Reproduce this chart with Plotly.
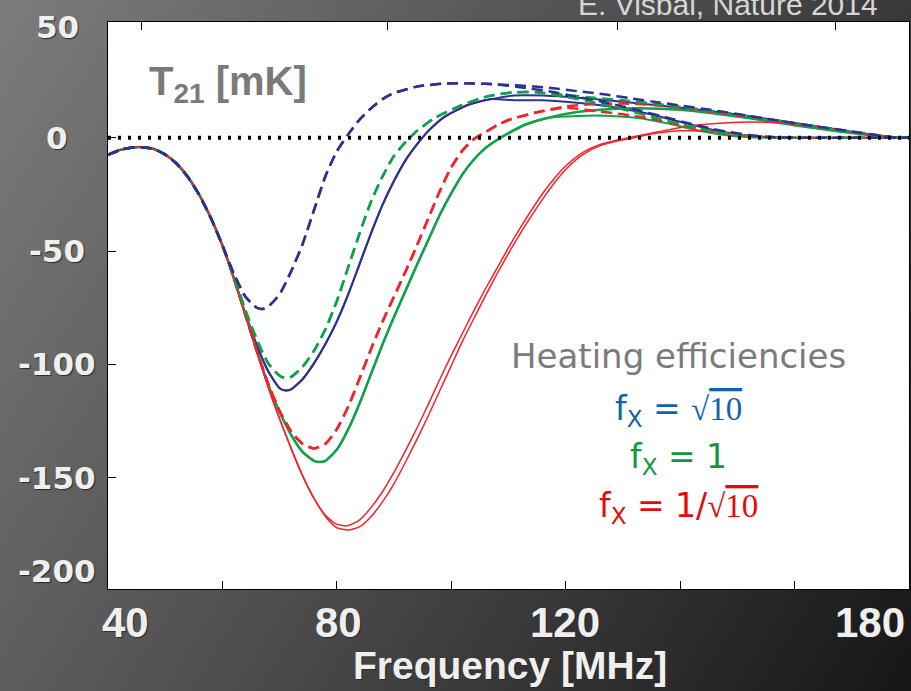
import base64
import plotly.graph_objects as go

# ---------------- data: 21-cm global signal T21 [mK] vs frequency [MHz] ----------------
# shared early part (all models coincide)
trunk_f = [40, 42, 44, 46, 48, 50, 52, 54, 56, 58, 60]
trunk_T = [-7.6, -5.5, -4.4, -4.2, -5.0, -7.5, -11.5, -17.5, -25.5, -35.5, -47.5]

# f_X = sqrt(10), soft spectrum (dashed)
bd_f = [62, 64, 66, 67, 68, 70, 72, 74, 76, 78, 80, 82, 84, 86, 88, 90, 94, 99, 104, 108]
bd_T = [-60, -70, -75, -75.5, -74.5, -69, -59, -47, -32, -17, -6, 1.5, 8, 13, 17, 19.7, 22.5, 23.9, 23.9, 23.5]
bd_long_f = [112, 117, 122, 127, 131, 135, 140, 145, 150, 156, 162, 168, 174, 178, 180]
bd_long_T = [23, 22, 20.5, 19, 17.5, 16, 14.2, 12.4, 10.4, 8, 5.6, 3.5, 1.3, 0, 0]
bd_short_f = [112, 117, 122, 127, 132, 137, 142, 147, 152, 156, 160, 180]
bd_short_T = [22.2, 20.5, 18, 15.5, 12.5, 9.3, 6, 3.2, 1.2, 0.3, 0, 0]

# f_X = sqrt(10), hard spectrum (solid)
bs_f = [62, 64, 66, 68, 70, 71, 72, 74, 76, 78, 80, 82, 84, 86, 88, 90, 92, 94, 96, 99, 103, 107]
bs_T = [-62, -77.5, -91.5, -103, -110.5, -111.5, -111, -106.5, -99.5, -91, -81, -69, -55.5, -42, -29.5,
        -19, -10, -3, 3, 9.5, 14.5, 17]
bs_long_f = [111, 116, 120, 125, 130, 135, 140, 145, 150, 155, 160, 165, 170, 175, 178, 180]
bs_long_T = [18.6, 18.6, 18, 17, 15.8, 14.5, 13.2, 11.8, 10.2, 8.4, 6.5, 4.6, 2.6, 0.8, 0, 0]
bs_short_f = [111, 116, 120, 125, 130, 135, 140, 145, 150, 154, 158, 180]
bs_short_T = [16.5, 16.5, 15.8, 14.6, 12.8, 10.2, 7, 3.8, 1.5, 0.4, 0, 0]

# f_X = 1, soft spectrum (dashed)
gd_f = [62, 64, 66, 68, 70, 71, 72, 74, 76, 78, 80, 82, 84, 86, 88, 90, 92, 94, 97, 101.5, 106, 111, 115]
gd_T = [-61, -76, -89, -99.5, -105, -106, -105.5, -101, -94, -84.5, -72, -57, -42, -28, -17, -8, -2, 3,
        8.5, 14, 18, 20, 20]
gd_long_f = [120, 125, 130, 135, 140, 145, 150, 156, 162, 168, 174, 178, 180]
gd_long_T = [18.8, 17.6, 16.5, 15.2, 13.6, 12, 10.2, 7.9, 5.6, 3.4, 1.2, 0, 0]
gd_short_f = [120, 125, 130, 135, 140, 145, 150, 155, 160, 180]
gd_short_T = [18, 15.5, 12.5, 9.2, 6, 3.3, 1.3, 0.3, 0, 0]

# f_X = 1, hard spectrum (solid)
gs_f = [62, 64, 66, 68, 70, 72, 74, 76, 77, 78, 80, 82, 84, 86, 88, 90, 92, 94, 96, 98, 100, 102, 104,
        106, 108, 110, 113, 117]
gs_T = [-62, -78, -94, -109, -121, -131, -138.5, -142.5, -143, -142.5, -137.5, -128.5, -117, -104, -91,
        -79, -67.5, -56, -45, -34, -24.5, -16, -9.5, -4.5, -1, 2, 5.8, 8.8]
gs_long_f = [122, 128, 133, 140, 145, 150, 155, 160, 165, 170, 175, 178, 180]
gs_long_T = [11.3, 12.6, 13, 12.3, 11, 9.3, 7.5, 5.5, 3.7, 2, 0.6, 0, 0]
gs_short_f = [122, 128, 133, 138, 142, 146, 150, 155, 180]
gs_short_T = [9.6, 9.6, 8.6, 6.2, 3.8, 1.8, 0.5, 0, 0]

# f_X = 1/sqrt(10), soft spectrum (dashed)
rd_f = [62, 64, 66, 68, 70, 72, 74, 76, 78, 80, 82, 84, 86, 88, 90, 92, 94, 96, 98, 100, 102, 104, 106,
        108, 110, 115]
rd_T = [-62, -78, -94, -108.5, -120.5, -129.5, -135, -137, -135, -128.5, -118.5, -106, -93, -81, -70,
        -59, -47.5, -35.5, -23.5, -13, -5.5, -0.5, 2.5, 5.5, 7.8, 11.2]
rd_long_f = [120, 125, 131, 135, 140, 145, 150, 156, 162, 168, 174, 178, 180]
rd_long_T = [13.8, 14.8, 15, 14.5, 13.2, 11.6, 9.8, 7.6, 5.4, 3.3, 1.2, 0, 0]
rd_short_f = [120, 125, 130, 135, 140, 145, 150, 155, 160, 180]
rd_short_T = [13.2, 11.8, 10.3, 8.3, 5.6, 3.1, 1.2, 0.3, 0, 0]

# f_X = 1/sqrt(10), hard spectrum (solid pair)
rs_a_f = [62, 64, 66, 68, 70, 72, 74, 76, 78, 80, 82, 84, 86, 88, 90, 92, 94, 96, 98, 100, 102, 104,
          106, 108, 110, 112, 114, 116, 118, 120, 123, 126, 129, 132, 136, 140, 145, 150, 155, 160,
          165, 170, 175, 178, 180]
rs_a_T = [-62, -78, -94, -110, -124, -137, -149, -159, -166.5, -170.5, -171, -168.5, -163, -156, -147.5,
          -138, -128, -117.5, -106.5, -96, -86, -76, -66.5, -57.5, -48.5, -40, -32, -24.5, -18,
          -12.5, -6.5, -3, -1, 0.5, 2.5, 4.5, 6, 6.8, 6.8, 6, 4.5, 2.5, 0.8, 0, 0]
rs_b_f = [62, 64, 66, 68, 70, 72, 74, 76, 78, 80, 82, 84, 86, 88, 90, 92, 94, 96, 98, 100, 102, 104,
          106, 108, 110, 112, 114, 116, 118, 120, 123, 126, 129, 132, 136, 140, 145, 150, 155, 160, 180]
rs_b_T = [-62, -78, -94, -110, -124, -137, -149, -159, -167, -172, -173, -171.5, -167, -160.5, -152.5,
          -143, -133, -122.5, -111.5, -100.5, -89.5, -79.5, -69.5, -60, -51, -42.5,
          -34.5, -27, -20, -14, -7.5, -3.5, -1.5, 0, 2, 3, 2.8, 1.5, 0.3, 0, 0]

# axis annotations
x_tick_vals = [60, 80, 100, 120, 140, 160]
x_tick_labels = [40, 80, 120, 180]
y_tick_vals = [-150, -100, -50, 0]
y_tick_labels = [50, 0, -50, -100, -150, -200]
top_redshifts = [30, 15, 10, 7.5]
zero_f = [40, 180]
zero_T = [0, 0]

# ---------------- page geometry ----------------
W, H = 911, 691
ML, MR, MT, MB = 108, 2, 22, 102
PW, PH = W - ML - MR, H - MT - MB
X_RANGE = [40, 180]
Y_RANGE = [-199, 51]


def px(x):
    return (x - ML) / PW


def py(y):
    return (H - MB - y) / PH


def paper_of_value(v):
    return (v - Y_RANGE[0]) / (Y_RANGE[1] - Y_RANGE[0])


BLUE = "#2e3192"
GREEN = "#0ea24b"
RED = "#f5222a"

fig = go.Figure()


def add_curve(fx, ty, color, dashed, width):
    fig.add_trace(go.Scatter(
        x=fx, y=ty, mode="lines",
        line=dict(color=color, width=width, dash="11px,6px" if dashed else "solid",
                  shape="spline", smoothing=0.6),
        hoverinfo="skip", showlegend=False))


curves = [
    (trunk_f + bs_f + bs_long_f, trunk_T + bs_T + bs_long_T, BLUE, False, 2),
    (trunk_f + bs_f + bs_short_f, trunk_T + bs_T + bs_short_T, BLUE, False, 2),
    (trunk_f + gs_f + gs_long_f, trunk_T + gs_T + gs_long_T, GREEN, False, 2.5),
    (trunk_f + gs_f + gs_short_f, trunk_T + gs_T + gs_short_T, GREEN, False, 2),
    (trunk_f + rs_a_f, trunk_T + rs_a_T, RED, False, 1.5),
    (trunk_f + rs_b_f, trunk_T + rs_b_T, RED, False, 1.5),
    (trunk_f + rd_f + rd_long_f, trunk_T + rd_T + rd_long_T, RED, True, 2.5),
    (trunk_f + rd_f + rd_short_f, trunk_T + rd_T + rd_short_T, RED, True, 2.5),
    (trunk_f + gd_f + gd_long_f, trunk_T + gd_T + gd_long_T, GREEN, True, 2.5),
    (trunk_f + gd_f + gd_short_f, trunk_T + gd_T + gd_short_T, GREEN, True, 2.5),
    (trunk_f + bd_f + bd_long_f, trunk_T + bd_T + bd_long_T, BLUE, True, 2.5),
    (trunk_f + bd_f + bd_short_f, trunk_T + bd_T + bd_short_T, BLUE, True, 2.5),
]
for c in curves:
    add_curve(*c)

# dotted zero reference, on the redshift (top) axis overlay so it sits above the curves
fig.add_trace(go.Scatter(x=zero_f, y=zero_T, xaxis="x2", mode="lines",
                         line=dict(color="black", width=4, dash="3px,7px"),
                         hoverinfo="skip", showlegend=False))

top_tick_f = [1420.4 / (1 + z) for z in top_redshifts]

# slide background: grey diagonal gradient
bg_svg = (
    f'<svg xmlns="http://www.w3.org/2000/svg" width="{W}" height="{H}" viewBox="0 0 {W} {H}">'
    '<defs><linearGradient id="g" gradientUnits="userSpaceOnUse" x1="0" y1="0" x2="966" y2="604">'
    '<stop offset="0" stop-color="#7c7c7c"/><stop offset="0.5" stop-color="#4c4c4c"/>'
    '<stop offset="1" stop-color="#161616"/></linearGradient></defs>'
    f'<rect width="{W}" height="{H}" fill="url(#g)"/></svg>'
)
bg_src = "data:image/svg+xml;base64," + base64.b64encode(bg_svg.encode()).decode()

LIGHT = "#efefef"
SHADOW = "1px 1px 1px #2a2a2a"
NUM_FONT = "DejaVu Sans, Liberation Sans, Arial, sans-serif"
AXIS_FONT = "Liberation Sans, Arial, sans-serif"
TEXT_FONT = "DejaVu Sans, Liberation Sans, Arial, sans-serif"

annotations = []

# y tick labels (the lowest one is lifted to stay inside the frame height)
y_label_shift = {50: -3, -200: 20}
for v in y_tick_labels:
    annotations.append(dict(
        x=px(57), xref="paper", y=paper_of_value(v), yref="paper", yshift=y_label_shift.get(v, 0),
        text=str(v), showarrow=False, xanchor="center", yanchor="middle",
        font=dict(family=NUM_FONT, size=31, color=LIGHT, weight="bold", shadow=SHADOW)))

# x tick labels (end labels pulled inward)
x_label_place = {40: ("center", 17), 80: ("center", 2), 120: ("center", -1), 180: ("right", -2)}
for v in x_tick_labels:
    anchor, shift = x_label_place[v]
    annotations.append(dict(
        x=v, xref="x", xshift=shift, y=py(623), yref="paper",
        text=str(v), showarrow=False, xanchor=anchor, yanchor="middle",
        font=dict(family=AXIS_FONT, size=42, color=LIGHT, weight="bold", shadow=SHADOW)))

annotations += [
    dict(x=px(510), y=py(665), xref="paper", yref="paper", text="Frequency [MHz]",
         showarrow=False, xanchor="center", yanchor="middle",
         font=dict(family=AXIS_FONT, size=39, color=LIGHT, weight="bold", shadow=SHADOW)),
    dict(x=px(880), y=py(23), xref="paper", yref="paper", text="E. Visbal, Nature 2014",
         showarrow=False, xanchor="right", yanchor="bottom",
         font=dict(family="Liberation Sans, Arial, sans-serif", size=30, color="#d6d6d6")),
    dict(x=px(147), y=py(84), xref="paper", yref="paper", text="T<sub>21</sub> [mK]",
         showarrow=False, xanchor="left", yanchor="middle",
         font=dict(family="Liberation Sans, Arial, sans-serif", size=40, color="#7a7a7a",
                   weight="bold")),
    dict(x=px(678), y=py(356), xref="paper", yref="paper", text="Heating efficiencies",
         showarrow=False, xanchor="center", yanchor="middle",
         font=dict(family=TEXT_FONT, size=34, color="#7b7b7b")),
]

SQRT10 = ("<span style=\"font-family:'Liberation Serif','DejaVu Serif',serif\">√"
          "<span style=\"text-decoration:overline\">10</span></span>")
legend_rows = [
    ("f<sub>X</sub> = " + SQRT10, "#1363ad", 410),
    ("f<sub>X</sub> = 1", "#12993f", 458),
    ("f<sub>X</sub> = 1/" + SQRT10, "#e60b0b", 507),
]
for txt, col, yy in legend_rows:
    annotations.append(dict(
        x=px(678), y=py(yy), xref="paper", yref="paper", text=txt, showarrow=False,
        xanchor="center", yanchor="middle",
        font=dict(family=TEXT_FONT, size=33, color=col)))

fig.update_layout(
    width=W, height=H,
    margin=dict(l=ML, r=MR, t=MT, b=MB, pad=0),
    paper_bgcolor="#4a4a4a",
    plot_bgcolor="rgba(0,0,0,0)",
    showlegend=False,
    images=[dict(source=bg_src, xref="paper", yref="paper", x=px(0), y=py(0),
                 sizex=W / PW, sizey=H / PH, xanchor="left", yanchor="top",
                 sizing="stretch", layer="below")],
    shapes=[dict(type="rect", xref="paper", yref="paper", x0=0, x1=1, y0=0, y1=1,
                 fillcolor="white", line=dict(width=0), layer="below")],
    xaxis=dict(range=X_RANGE, showgrid=False, zeroline=False, showline=True,
               linecolor="black", linewidth=1, mirror=True, ticks="inside",
               tickvals=x_tick_vals, ticklen=8, tickcolor="black", tickwidth=1,
               showticklabels=False),
    xaxis2=dict(range=X_RANGE, overlaying="x", side="top", showgrid=False,
                zeroline=False, showline=False, ticks="inside", tickvals=top_tick_f,
                ticklen=8, tickcolor="black", tickwidth=1, showticklabels=False),
    yaxis=dict(range=Y_RANGE, showgrid=False, zeroline=False, showline=True,
               linecolor="black", linewidth=1, mirror=True, ticks="inside",
               tickvals=y_tick_vals, ticklen=8, tickcolor="black", tickwidth=1,
               showticklabels=False),
    annotations=annotations,
)

fig.write_html("out.html")
